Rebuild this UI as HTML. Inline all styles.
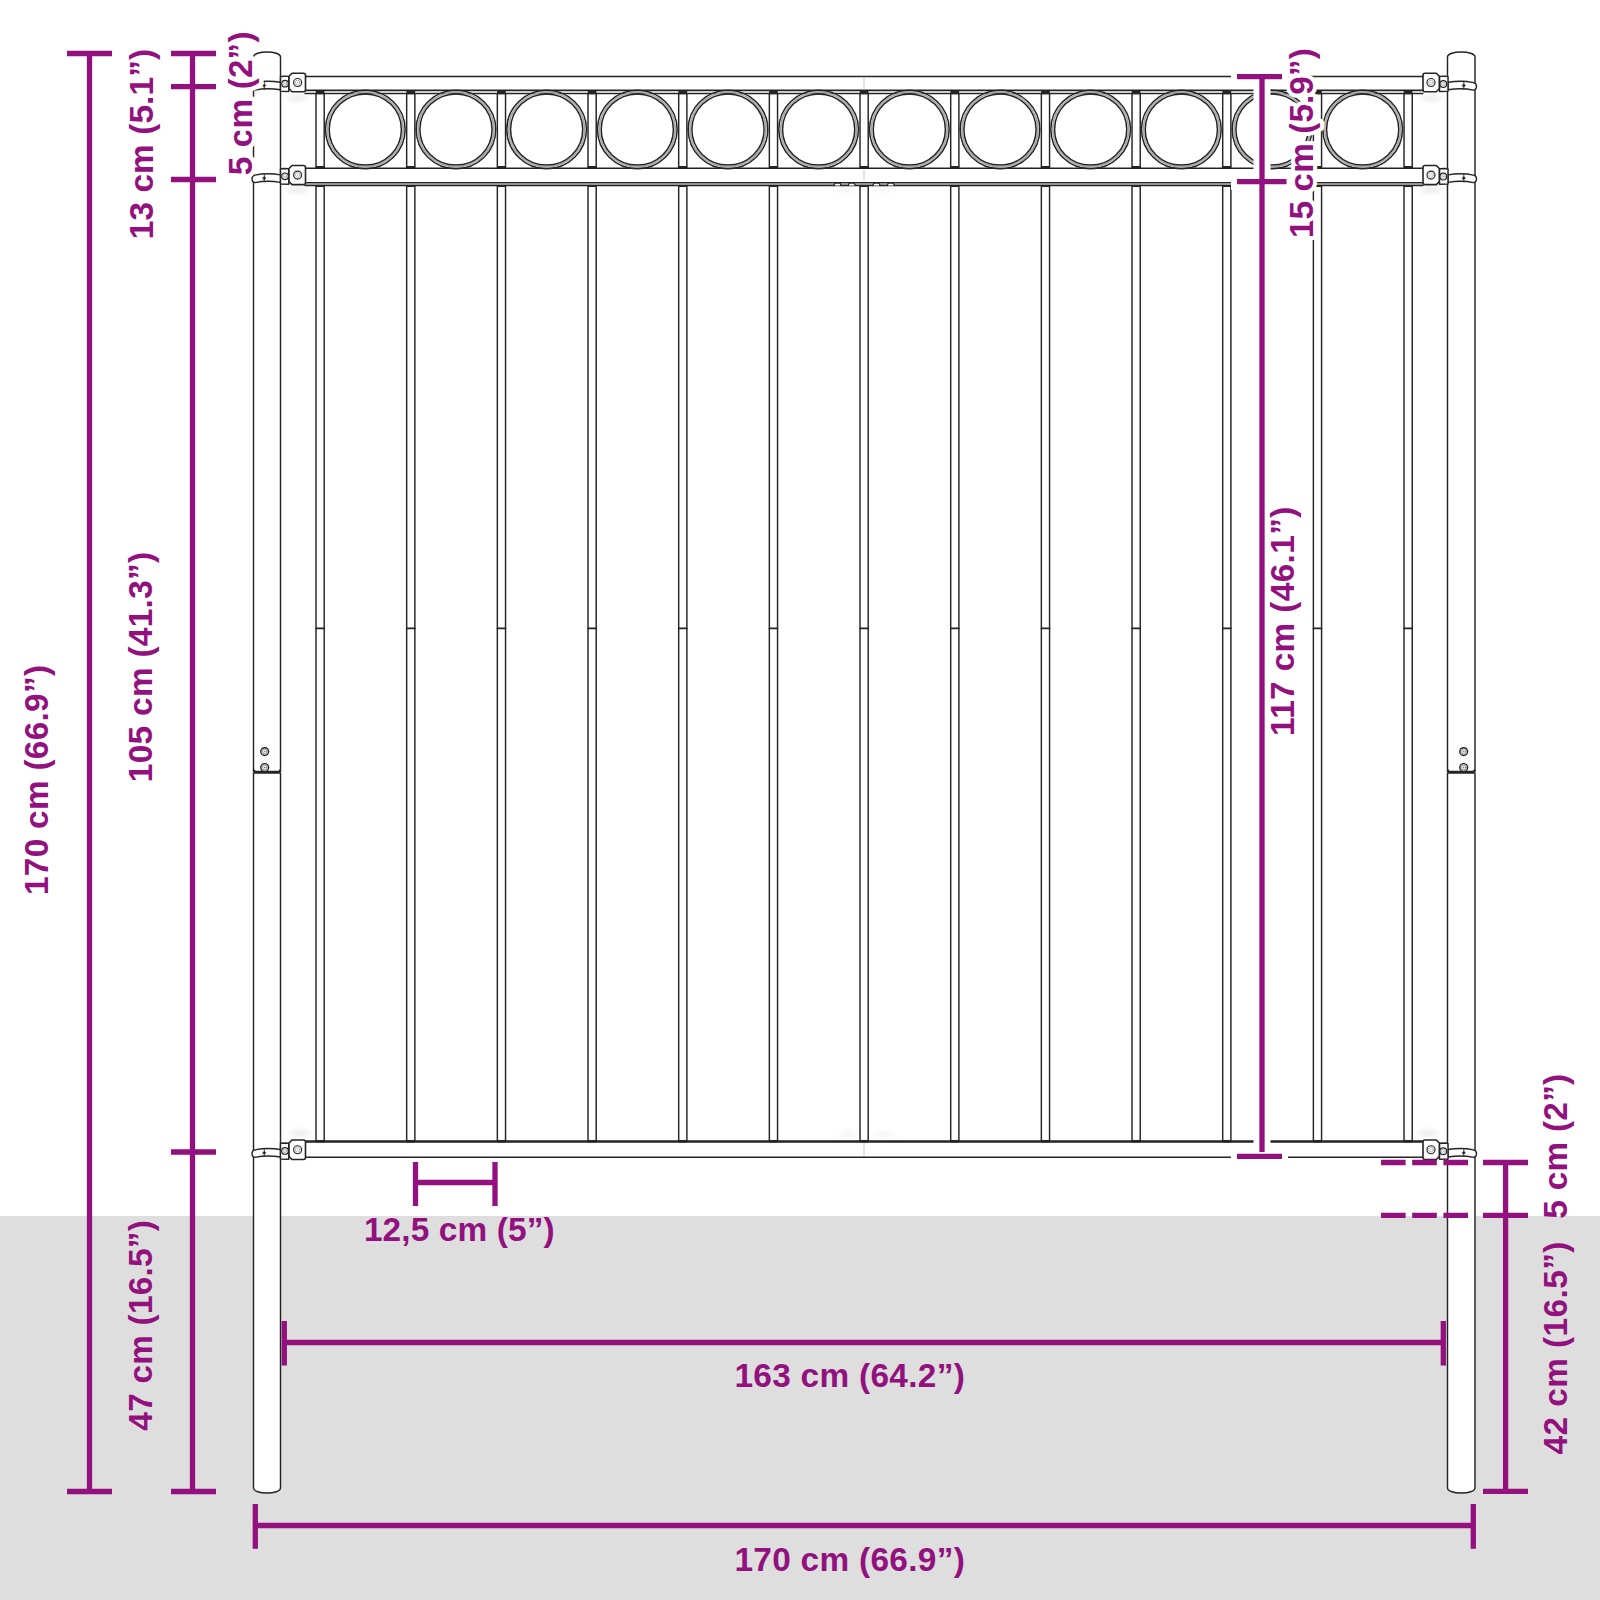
<!DOCTYPE html><html><head><meta charset="utf-8"><style>html,body{margin:0;padding:0;background:#fff;}svg{display:block;}</style></head><body>
<svg width="1600" height="1600" viewBox="0 0 1600 1600">
<rect x="0" y="0" width="1600" height="1600" fill="#fff"/>
<rect x="0" y="1216" width="1600" height="384" fill="#dedede"/>
<defs><filter id="bl" x="-50%" y="-50%" width="200%" height="200%"><feGaussianBlur stdDeviation="2.6"/></filter></defs>
<g fill="#e4e4e4" filter="url(#bl)">
<ellipse cx="297" cy="98" rx="11" ry="3.2" fill="#ececec"/>
<ellipse cx="297" cy="190" rx="11" ry="3.2" fill="#ececec"/>
<ellipse cx="300" cy="1133" rx="11" ry="3.2" fill="#ececec"/>
<ellipse cx="1431" cy="98" rx="11" ry="3.2" fill="#ececec"/>
<ellipse cx="1431" cy="190" rx="11" ry="3.2" fill="#ececec"/>
<ellipse cx="1428" cy="1133" rx="11" ry="3.2" fill="#ececec"/>
<ellipse cx="845" cy="189.5" rx="9" ry="2.5" fill="#f3f3f3"/>
<ellipse cx="884" cy="189.5" rx="9" ry="2.5" fill="#f3f3f3"/>
<ellipse cx="848" cy="1134" rx="9" ry="2.5" fill="#f3f3f3"/>
<ellipse cx="884" cy="1134" rx="9" ry="2.5" fill="#f3f3f3"/>
</g>
<g fill="none" stroke="#242424" stroke-width="1.45" stroke-linejoin="round" stroke-linecap="round">
<rect x="316.00" y="93.4" width="8.2" height="74.9" fill="#fff"/>
<rect x="316.00" y="185.2" width="8.2" height="956.3" fill="#fff"/>
<line x1="316.00" y1="628.4" x2="324.20" y2="628.4" stroke-width="1.6"/>
<rect x="406.67" y="93.4" width="8.2" height="74.9" fill="#fff"/>
<rect x="406.67" y="185.2" width="8.2" height="956.3" fill="#fff"/>
<line x1="406.67" y1="628.4" x2="414.87" y2="628.4" stroke-width="1.6"/>
<rect x="497.34" y="93.4" width="8.2" height="74.9" fill="#fff"/>
<rect x="497.34" y="185.2" width="8.2" height="956.3" fill="#fff"/>
<line x1="497.34" y1="628.4" x2="505.54" y2="628.4" stroke-width="1.6"/>
<rect x="588.01" y="93.4" width="8.2" height="74.9" fill="#fff"/>
<rect x="588.01" y="185.2" width="8.2" height="956.3" fill="#fff"/>
<line x1="588.01" y1="628.4" x2="596.21" y2="628.4" stroke-width="1.6"/>
<rect x="678.68" y="93.4" width="8.2" height="74.9" fill="#fff"/>
<rect x="678.68" y="185.2" width="8.2" height="956.3" fill="#fff"/>
<line x1="678.68" y1="628.4" x2="686.88" y2="628.4" stroke-width="1.6"/>
<rect x="769.35" y="93.4" width="8.2" height="74.9" fill="#fff"/>
<rect x="769.35" y="185.2" width="8.2" height="956.3" fill="#fff"/>
<line x1="769.35" y1="628.4" x2="777.55" y2="628.4" stroke-width="1.6"/>
<rect x="860.02" y="93.4" width="8.2" height="74.9" fill="#fff"/>
<rect x="860.02" y="185.2" width="8.2" height="956.3" fill="#fff"/>
<line x1="860.02" y1="628.4" x2="868.22" y2="628.4" stroke-width="1.6"/>
<rect x="950.69" y="93.4" width="8.2" height="74.9" fill="#fff"/>
<rect x="950.69" y="185.2" width="8.2" height="956.3" fill="#fff"/>
<line x1="950.69" y1="628.4" x2="958.89" y2="628.4" stroke-width="1.6"/>
<rect x="1041.36" y="93.4" width="8.2" height="74.9" fill="#fff"/>
<rect x="1041.36" y="185.2" width="8.2" height="956.3" fill="#fff"/>
<line x1="1041.36" y1="628.4" x2="1049.56" y2="628.4" stroke-width="1.6"/>
<rect x="1132.03" y="93.4" width="8.2" height="74.9" fill="#fff"/>
<rect x="1132.03" y="185.2" width="8.2" height="956.3" fill="#fff"/>
<line x1="1132.03" y1="628.4" x2="1140.23" y2="628.4" stroke-width="1.6"/>
<rect x="1222.70" y="93.4" width="8.2" height="74.9" fill="#fff"/>
<rect x="1222.70" y="185.2" width="8.2" height="956.3" fill="#fff"/>
<line x1="1222.70" y1="628.4" x2="1230.90" y2="628.4" stroke-width="1.6"/>
<rect x="1313.37" y="93.4" width="8.2" height="74.9" fill="#fff"/>
<rect x="1313.37" y="185.2" width="8.2" height="956.3" fill="#fff"/>
<line x1="1313.37" y1="628.4" x2="1321.57" y2="628.4" stroke-width="1.6"/>
<rect x="1404.04" y="93.4" width="8.2" height="74.9" fill="#fff"/>
<rect x="1404.04" y="185.2" width="8.2" height="956.3" fill="#fff"/>
<line x1="1404.04" y1="628.4" x2="1412.24" y2="628.4" stroke-width="1.6"/>
<rect x="305" y="76.5" width="1118" height="13.799999999999997" fill="#fff" stroke="none"/>
<rect x="305" y="90.3" width="1118" height="3.299999999999997" fill="#cccccc" stroke="none"/>
<line x1="305" y1="93.6" x2="1423" y2="93.6"/>
<line x1="305" y1="76.5" x2="1423" y2="76.5" stroke-width="1.45"/>
<line x1="305" y1="90.3" x2="1423" y2="90.3"/>
<rect x="305" y="168.3" width="1118" height="14.299999999999983" fill="#fff" stroke="none"/>
<rect x="305" y="182.6" width="1118" height="2.8000000000000114" fill="#bbbbbb" stroke="none"/>
<line x1="305" y1="185.4" x2="1423" y2="185.4"/>
<line x1="305" y1="168.3" x2="1423" y2="168.3" stroke-width="1.45"/>
<line x1="305" y1="182.6" x2="1423" y2="182.6"/>
<rect x="305" y="1141.6" width="1118" height="15.600000000000136" fill="#fff" stroke="none"/>
<line x1="305" y1="1141.6" x2="1423" y2="1141.6" stroke-width="2.5"/>
<line x1="305" y1="1157.2" x2="1423" y2="1157.2"/>
<line x1="864" y1="78" x2="864" y2="88.3" stroke="#bbb" stroke-width="0.8"/>
<line x1="864" y1="170.3" x2="864" y2="180.6" stroke="#bbb" stroke-width="0.8"/>
<line x1="864" y1="1143.5" x2="864" y2="1155.2" stroke="#bbb" stroke-width="0.8"/>
<ellipse cx="365.30" cy="129.5" rx="39.8" ry="39.2" stroke-width="1.5"/>
<ellipse cx="365.30" cy="129.5" rx="37.95" ry="37.4" stroke="#a6a6a6" stroke-width="1.7"/>
<ellipse cx="365.30" cy="129.5" rx="36.1" ry="35.6" stroke-width="1.5"/>
<ellipse cx="455.97" cy="129.5" rx="39.8" ry="39.2" stroke-width="1.5"/>
<ellipse cx="455.97" cy="129.5" rx="37.95" ry="37.4" stroke="#a6a6a6" stroke-width="1.7"/>
<ellipse cx="455.97" cy="129.5" rx="36.1" ry="35.6" stroke-width="1.5"/>
<ellipse cx="546.64" cy="129.5" rx="39.8" ry="39.2" stroke-width="1.5"/>
<ellipse cx="546.64" cy="129.5" rx="37.95" ry="37.4" stroke="#a6a6a6" stroke-width="1.7"/>
<ellipse cx="546.64" cy="129.5" rx="36.1" ry="35.6" stroke-width="1.5"/>
<ellipse cx="637.31" cy="129.5" rx="39.8" ry="39.2" stroke-width="1.5"/>
<ellipse cx="637.31" cy="129.5" rx="37.95" ry="37.4" stroke="#a6a6a6" stroke-width="1.7"/>
<ellipse cx="637.31" cy="129.5" rx="36.1" ry="35.6" stroke-width="1.5"/>
<ellipse cx="727.98" cy="129.5" rx="39.8" ry="39.2" stroke-width="1.5"/>
<ellipse cx="727.98" cy="129.5" rx="37.95" ry="37.4" stroke="#a6a6a6" stroke-width="1.7"/>
<ellipse cx="727.98" cy="129.5" rx="36.1" ry="35.6" stroke-width="1.5"/>
<ellipse cx="818.65" cy="129.5" rx="39.8" ry="39.2" stroke-width="1.5"/>
<ellipse cx="818.65" cy="129.5" rx="37.95" ry="37.4" stroke="#a6a6a6" stroke-width="1.7"/>
<ellipse cx="818.65" cy="129.5" rx="36.1" ry="35.6" stroke-width="1.5"/>
<ellipse cx="909.32" cy="129.5" rx="39.8" ry="39.2" stroke-width="1.5"/>
<ellipse cx="909.32" cy="129.5" rx="37.95" ry="37.4" stroke="#a6a6a6" stroke-width="1.7"/>
<ellipse cx="909.32" cy="129.5" rx="36.1" ry="35.6" stroke-width="1.5"/>
<ellipse cx="999.99" cy="129.5" rx="39.8" ry="39.2" stroke-width="1.5"/>
<ellipse cx="999.99" cy="129.5" rx="37.95" ry="37.4" stroke="#a6a6a6" stroke-width="1.7"/>
<ellipse cx="999.99" cy="129.5" rx="36.1" ry="35.6" stroke-width="1.5"/>
<ellipse cx="1090.66" cy="129.5" rx="39.8" ry="39.2" stroke-width="1.5"/>
<ellipse cx="1090.66" cy="129.5" rx="37.95" ry="37.4" stroke="#a6a6a6" stroke-width="1.7"/>
<ellipse cx="1090.66" cy="129.5" rx="36.1" ry="35.6" stroke-width="1.5"/>
<ellipse cx="1181.33" cy="129.5" rx="39.8" ry="39.2" stroke-width="1.5"/>
<ellipse cx="1181.33" cy="129.5" rx="37.95" ry="37.4" stroke="#a6a6a6" stroke-width="1.7"/>
<ellipse cx="1181.33" cy="129.5" rx="36.1" ry="35.6" stroke-width="1.5"/>
<ellipse cx="1272.00" cy="129.5" rx="39.8" ry="39.2" stroke-width="1.5"/>
<ellipse cx="1272.00" cy="129.5" rx="37.95" ry="37.4" stroke="#a6a6a6" stroke-width="1.7"/>
<ellipse cx="1272.00" cy="129.5" rx="36.1" ry="35.6" stroke-width="1.5"/>
<ellipse cx="1362.67" cy="129.5" rx="39.8" ry="39.2" stroke-width="1.5"/>
<ellipse cx="1362.67" cy="129.5" rx="37.95" ry="37.4" stroke="#a6a6a6" stroke-width="1.7"/>
<ellipse cx="1362.67" cy="129.5" rx="36.1" ry="35.6" stroke-width="1.5"/>
<rect x="315.70" y="90.6" width="8.799999999999999" height="2.8" rx="1" fill="#242424" stroke="none"/>
<rect x="315.70" y="165.9" width="8.799999999999999" height="2.8" rx="1" fill="#242424" stroke="none"/>
<rect x="315.70" y="184.9" width="8.799999999999999" height="2.2" rx="1" fill="#242424" stroke="none"/>
<rect x="315.70" y="1140" width="8.799999999999999" height="2.6" rx="1" fill="#242424" stroke="none"/>
<rect x="406.37" y="90.6" width="8.799999999999999" height="2.8" rx="1" fill="#242424" stroke="none"/>
<rect x="406.37" y="165.9" width="8.799999999999999" height="2.8" rx="1" fill="#242424" stroke="none"/>
<rect x="406.37" y="184.9" width="8.799999999999999" height="2.2" rx="1" fill="#242424" stroke="none"/>
<rect x="406.37" y="1140" width="8.799999999999999" height="2.6" rx="1" fill="#242424" stroke="none"/>
<rect x="497.04" y="90.6" width="8.799999999999999" height="2.8" rx="1" fill="#242424" stroke="none"/>
<rect x="497.04" y="165.9" width="8.799999999999999" height="2.8" rx="1" fill="#242424" stroke="none"/>
<rect x="497.04" y="184.9" width="8.799999999999999" height="2.2" rx="1" fill="#242424" stroke="none"/>
<rect x="497.04" y="1140" width="8.799999999999999" height="2.6" rx="1" fill="#242424" stroke="none"/>
<rect x="587.71" y="90.6" width="8.799999999999999" height="2.8" rx="1" fill="#242424" stroke="none"/>
<rect x="587.71" y="165.9" width="8.799999999999999" height="2.8" rx="1" fill="#242424" stroke="none"/>
<rect x="587.71" y="184.9" width="8.799999999999999" height="2.2" rx="1" fill="#242424" stroke="none"/>
<rect x="587.71" y="1140" width="8.799999999999999" height="2.6" rx="1" fill="#242424" stroke="none"/>
<rect x="678.38" y="90.6" width="8.799999999999999" height="2.8" rx="1" fill="#242424" stroke="none"/>
<rect x="678.38" y="165.9" width="8.799999999999999" height="2.8" rx="1" fill="#242424" stroke="none"/>
<rect x="678.38" y="184.9" width="8.799999999999999" height="2.2" rx="1" fill="#242424" stroke="none"/>
<rect x="678.38" y="1140" width="8.799999999999999" height="2.6" rx="1" fill="#242424" stroke="none"/>
<rect x="769.05" y="90.6" width="8.799999999999999" height="2.8" rx="1" fill="#242424" stroke="none"/>
<rect x="769.05" y="165.9" width="8.799999999999999" height="2.8" rx="1" fill="#242424" stroke="none"/>
<rect x="769.05" y="184.9" width="8.799999999999999" height="2.2" rx="1" fill="#242424" stroke="none"/>
<rect x="769.05" y="1140" width="8.799999999999999" height="2.6" rx="1" fill="#242424" stroke="none"/>
<rect x="859.72" y="90.6" width="8.799999999999999" height="2.8" rx="1" fill="#242424" stroke="none"/>
<rect x="859.72" y="165.9" width="8.799999999999999" height="2.8" rx="1" fill="#242424" stroke="none"/>
<rect x="859.72" y="184.9" width="8.799999999999999" height="2.2" rx="1" fill="#242424" stroke="none"/>
<rect x="859.72" y="1140" width="8.799999999999999" height="2.6" rx="1" fill="#242424" stroke="none"/>
<rect x="950.39" y="90.6" width="8.799999999999999" height="2.8" rx="1" fill="#242424" stroke="none"/>
<rect x="950.39" y="165.9" width="8.799999999999999" height="2.8" rx="1" fill="#242424" stroke="none"/>
<rect x="950.39" y="184.9" width="8.799999999999999" height="2.2" rx="1" fill="#242424" stroke="none"/>
<rect x="950.39" y="1140" width="8.799999999999999" height="2.6" rx="1" fill="#242424" stroke="none"/>
<rect x="1041.06" y="90.6" width="8.799999999999999" height="2.8" rx="1" fill="#242424" stroke="none"/>
<rect x="1041.06" y="165.9" width="8.799999999999999" height="2.8" rx="1" fill="#242424" stroke="none"/>
<rect x="1041.06" y="184.9" width="8.799999999999999" height="2.2" rx="1" fill="#242424" stroke="none"/>
<rect x="1041.06" y="1140" width="8.799999999999999" height="2.6" rx="1" fill="#242424" stroke="none"/>
<rect x="1131.73" y="90.6" width="8.799999999999999" height="2.8" rx="1" fill="#242424" stroke="none"/>
<rect x="1131.73" y="165.9" width="8.799999999999999" height="2.8" rx="1" fill="#242424" stroke="none"/>
<rect x="1131.73" y="184.9" width="8.799999999999999" height="2.2" rx="1" fill="#242424" stroke="none"/>
<rect x="1131.73" y="1140" width="8.799999999999999" height="2.6" rx="1" fill="#242424" stroke="none"/>
<rect x="1222.40" y="90.6" width="8.799999999999999" height="2.8" rx="1" fill="#242424" stroke="none"/>
<rect x="1222.40" y="165.9" width="8.799999999999999" height="2.8" rx="1" fill="#242424" stroke="none"/>
<rect x="1222.40" y="184.9" width="8.799999999999999" height="2.2" rx="1" fill="#242424" stroke="none"/>
<rect x="1222.40" y="1140" width="8.799999999999999" height="2.6" rx="1" fill="#242424" stroke="none"/>
<rect x="1313.07" y="90.6" width="8.799999999999999" height="2.8" rx="1" fill="#242424" stroke="none"/>
<rect x="1313.07" y="165.9" width="8.799999999999999" height="2.8" rx="1" fill="#242424" stroke="none"/>
<rect x="1313.07" y="184.9" width="8.799999999999999" height="2.2" rx="1" fill="#242424" stroke="none"/>
<rect x="1313.07" y="1140" width="8.799999999999999" height="2.6" rx="1" fill="#242424" stroke="none"/>
<rect x="1403.74" y="90.6" width="8.799999999999999" height="2.8" rx="1" fill="#242424" stroke="none"/>
<rect x="1403.74" y="165.9" width="8.799999999999999" height="2.8" rx="1" fill="#242424" stroke="none"/>
<rect x="1403.74" y="184.9" width="8.799999999999999" height="2.2" rx="1" fill="#242424" stroke="none"/>
<rect x="1403.74" y="1140" width="8.799999999999999" height="2.6" rx="1" fill="#242424" stroke="none"/>
<path d="M834.0,185.6 L834.6,183.8 Q834.9,183.1 835.6,183.1 L839.4,183.1 Q840.1,183.1 840.4,183.8 L841.0,185.6" fill="#fff" stroke-width="1.3"/>
<path d="M848.2,185.6 L848.8,183.8 Q849.1,183.1 849.8,183.1 L853.6,183.1 Q854.3,183.1 854.6,183.8 L855.2,185.6" fill="#fff" stroke-width="1.3"/>
<path d="M873.0,185.6 L873.6,183.8 Q873.9,183.1 874.6,183.1 L878.4,183.1 Q879.1,183.1 879.4,183.8 L880.0,185.6" fill="#fff" stroke-width="1.3"/>
<path d="M887.3,185.6 L887.9,183.8 Q888.2,183.1 888.9,183.1 L892.7,183.1 Q893.4,183.1 893.7,183.8 L894.3,185.6" fill="#fff" stroke-width="1.3"/>
<path d="M253.5,57 C253.5,50.3 280.5,50.3 280.5,57 L280.5,771.5 L253.5,771.5 Z" fill="#fff"/>
<path d="M253.5,773 L280.5,773 L280.5,1488 C280.5,1494.6 253.5,1494.6 253.5,1488 Z" fill="#fff"/>
<path d="M254.0,770.2 Q254.5,772.2 256.5,772.2 L277.5,772.2 Q279.5,772.2 280.0,770.2" stroke-width="1.8"/>
<circle cx="264.7" cy="751.6" r="3.9" fill="#f2f2f2" stroke-width="1.4"/>
<circle cx="264.7" cy="751.6" r="2.3" fill="none" stroke="#777" stroke-width="0.7"/>
<circle cx="264.7" cy="751.6" r="0.7" fill="#666" stroke="none"/>
<circle cx="264.7" cy="767.5" r="3.9" fill="#f2f2f2" stroke-width="1.4"/>
<circle cx="264.7" cy="767.5" r="2.3" fill="none" stroke="#777" stroke-width="0.7"/>
<circle cx="264.7" cy="767.5" r="0.7" fill="#666" stroke="none"/>
<path d="M1447.5,57 C1447.5,50.3 1475,50.3 1475,57 L1475,771.5 L1447.5,771.5 Z" fill="#fff"/>
<path d="M1447.5,773 L1475,773 L1475,1488 C1475,1494.6 1447.5,1494.6 1447.5,1488 Z" fill="#fff"/>
<path d="M1448.0,770.2 Q1448.5,772.2 1450.5,772.2 L1472,772.2 Q1474,772.2 1474.5,770.2" stroke-width="1.8"/>
<circle cx="1463.7" cy="751.6" r="3.9" fill="#f2f2f2" stroke-width="1.4"/>
<circle cx="1463.7" cy="751.6" r="2.3" fill="none" stroke="#777" stroke-width="0.7"/>
<circle cx="1463.7" cy="751.6" r="0.7" fill="#666" stroke="none"/>
<circle cx="1463.7" cy="767.5" r="3.9" fill="#f2f2f2" stroke-width="1.4"/>
<circle cx="1463.7" cy="767.5" r="2.3" fill="none" stroke="#777" stroke-width="0.7"/>
<circle cx="1463.7" cy="767.5" r="0.7" fill="#666" stroke="none"/>
<path d="M280.5,82.3 Q267.0,80.1 255.0,82.6 Q252.0,83.3 252.0,86.3 Q252.0,89.8 255.0,90.1 Q267.0,87.6 280.5,89.8 Z" fill="#fff"/>
<path d="M264.3,81.1 L264.3,89.3" stroke-width="0.8"/><path d="M262.7,85.5 L264.3,83.9 L265.90000000000003,85.5 L264.3,87.1 Z" fill="#242424" stroke-width="0.6"/>
<path d="M280.5,91.3 L280.5,76.7 Q281,76.2 284,76.2 L288.8,76.4 L288.8,91.5 Z" fill="#fff"/>
<circle cx="285" cy="83.7" r="3.3" fill="#fff" stroke-width="1.15"/>
<circle cx="285" cy="83.7" r="1.91" fill="none" stroke="#9a9a9a" stroke-width="0.7"/>
<circle cx="285" cy="83.7" r="0.55" fill="#888" stroke="none"/>
<path d="M289,76.2 L292,73.2 L303.5,73.2 Q305.5,73.2 305.5,75.2 L305.5,89.8 Q305.5,91.8 303.5,91.8 L292,91.8 L289,88.8 Z" fill="#fff" stroke-width="1.6"/>
<circle cx="297.6" cy="82.5" r="4.0" fill="#fff" stroke-width="1.15"/>
<circle cx="297.6" cy="82.5" r="2.32" fill="none" stroke="#9a9a9a" stroke-width="0.7"/>
<circle cx="297.6" cy="82.5" r="0.55" fill="#888" stroke="none"/>
<path d="M1448,82.3 Q1461.5,80.1 1473.5,82.6 Q1476.5,83.3 1476.5,86.3 Q1476.5,89.8 1473.5,90.1 Q1461.5,87.6 1448,89.8 Z" fill="#fff"/>
<path d="M1463.8,81.1 L1463.8,89.3" stroke-width="0.8"/><path d="M1462.2,85.5 L1463.8,83.9 L1465.3999999999999,85.5 L1463.8,87.1 Z" fill="#242424" stroke-width="0.6"/>
<path d="M1448,91.3 L1448,76.7 Q1447.5,76.2 1444.5,76.2 L1439.5,76.4 L1439.5,91.5 Z" fill="#fff"/>
<circle cx="1443.3" cy="84.0" r="3.4" fill="#fff" stroke-width="1.15"/>
<circle cx="1443.3" cy="84.0" r="1.97" fill="none" stroke="#9a9a9a" stroke-width="0.7"/>
<circle cx="1443.3" cy="84.0" r="0.55" fill="#888" stroke="none"/>
<path d="M1439.3,76.2 L1436.3,73.2 L1425,73.2 Q1423,73.2 1423,75.2 L1423,89.8 Q1423,91.8 1425,91.8 L1436.3,91.8 L1439.3,88.8 Z" fill="#fff" stroke-width="1.6"/>
<circle cx="1431" cy="82.5" r="4.0" fill="#fff" stroke-width="1.15"/>
<circle cx="1431" cy="82.5" r="2.32" fill="none" stroke="#9a9a9a" stroke-width="0.7"/>
<circle cx="1431" cy="82.5" r="0.55" fill="#888" stroke="none"/>
<path d="M280.5,174.85000000000002 Q267.0,172.65000000000003 255.0,175.15000000000003 Q252.0,175.85000000000002 252.0,178.85000000000002 Q252.0,182.35000000000002 255.0,182.65000000000003 Q267.0,180.15000000000003 280.5,182.35000000000002 Z" fill="#fff"/>
<path d="M264.3,173.65000000000003 L264.3,181.85000000000002" stroke-width="0.8"/><path d="M262.7,178.05 L264.3,176.45000000000002 L265.90000000000003,178.05 L264.3,179.65 Z" fill="#242424" stroke-width="0.6"/>
<path d="M280.5,184.1 L280.5,169.0 Q281,168.5 284,168.5 L288.8,168.7 L288.8,184.29999999999998 Z" fill="#fff"/>
<circle cx="285" cy="176.25" r="3.3" fill="#fff" stroke-width="1.15"/>
<circle cx="285" cy="176.25" r="1.91" fill="none" stroke="#9a9a9a" stroke-width="0.7"/>
<circle cx="285" cy="176.25" r="0.55" fill="#888" stroke="none"/>
<path d="M289,168.5 L292,165.5 L303.5,165.5 Q305.5,165.5 305.5,167.5 L305.5,182.6 Q305.5,184.6 303.5,184.6 L292,184.6 L289,181.6 Z" fill="#fff" stroke-width="1.6"/>
<circle cx="297.6" cy="175.05" r="4.0" fill="#fff" stroke-width="1.15"/>
<circle cx="297.6" cy="175.05" r="2.32" fill="none" stroke="#9a9a9a" stroke-width="0.7"/>
<circle cx="297.6" cy="175.05" r="0.55" fill="#888" stroke="none"/>
<path d="M1448,174.85000000000002 Q1461.5,172.65000000000003 1473.5,175.15000000000003 Q1476.5,175.85000000000002 1476.5,178.85000000000002 Q1476.5,182.35000000000002 1473.5,182.65000000000003 Q1461.5,180.15000000000003 1448,182.35000000000002 Z" fill="#fff"/>
<path d="M1463.8,173.65000000000003 L1463.8,181.85000000000002" stroke-width="0.8"/><path d="M1462.2,178.05 L1463.8,176.45000000000002 L1465.3999999999999,178.05 L1463.8,179.65 Z" fill="#242424" stroke-width="0.6"/>
<path d="M1448,184.1 L1448,169.0 Q1447.5,168.5 1444.5,168.5 L1439.5,168.7 L1439.5,184.29999999999998 Z" fill="#fff"/>
<circle cx="1443.3" cy="176.55" r="3.4" fill="#fff" stroke-width="1.15"/>
<circle cx="1443.3" cy="176.55" r="1.97" fill="none" stroke="#9a9a9a" stroke-width="0.7"/>
<circle cx="1443.3" cy="176.55" r="0.55" fill="#888" stroke="none"/>
<path d="M1439.3,168.5 L1436.3,165.5 L1425,165.5 Q1423,165.5 1423,167.5 L1423,182.6 Q1423,184.6 1425,184.6 L1436.3,184.6 L1439.3,181.6 Z" fill="#fff" stroke-width="1.6"/>
<circle cx="1431" cy="175.05" r="4.0" fill="#fff" stroke-width="1.15"/>
<circle cx="1431" cy="175.05" r="2.32" fill="none" stroke="#9a9a9a" stroke-width="0.7"/>
<circle cx="1431" cy="175.05" r="0.55" fill="#888" stroke="none"/>
<path d="M280.5,1149.55 Q267.0,1147.35 255.0,1149.85 Q252.0,1150.55 252.0,1153.55 Q252.0,1157.05 255.0,1157.35 Q267.0,1154.85 280.5,1157.05 Z" fill="#fff"/>
<path d="M264.3,1148.35 L264.3,1156.55" stroke-width="0.8"/><path d="M262.7,1152.75 L264.3,1151.15 L265.90000000000003,1152.75 L264.3,1154.35 Z" fill="#242424" stroke-width="0.6"/>
<path d="M280.5,1159.0 L280.5,1143.5 Q281,1143 284,1143 L288.8,1143.2 L288.8,1159.2 Z" fill="#fff"/>
<circle cx="285" cy="1150.95" r="3.3" fill="#fff" stroke-width="1.15"/>
<circle cx="285" cy="1150.95" r="1.91" fill="none" stroke="#9a9a9a" stroke-width="0.7"/>
<circle cx="285" cy="1150.95" r="0.55" fill="#888" stroke="none"/>
<path d="M289,1143 L292,1140 L303.5,1140 Q305.5,1140 305.5,1142 L305.5,1157.5 Q305.5,1159.5 303.5,1159.5 L292,1159.5 L289,1156.5 Z" fill="#fff" stroke-width="1.6"/>
<circle cx="297.6" cy="1149.75" r="4.0" fill="#fff" stroke-width="1.15"/>
<circle cx="297.6" cy="1149.75" r="2.32" fill="none" stroke="#9a9a9a" stroke-width="0.7"/>
<circle cx="297.6" cy="1149.75" r="0.55" fill="#888" stroke="none"/>
<path d="M1448,1149.55 Q1461.5,1147.35 1473.5,1149.85 Q1476.5,1150.55 1476.5,1153.55 Q1476.5,1157.05 1473.5,1157.35 Q1461.5,1154.85 1448,1157.05 Z" fill="#fff"/>
<path d="M1463.8,1148.35 L1463.8,1156.55" stroke-width="0.8"/><path d="M1462.2,1152.75 L1463.8,1151.15 L1465.3999999999999,1152.75 L1463.8,1154.35 Z" fill="#242424" stroke-width="0.6"/>
<path d="M1448,1159.0 L1448,1143.5 Q1447.5,1143 1444.5,1143 L1439.5,1143.2 L1439.5,1159.2 Z" fill="#fff"/>
<circle cx="1443.3" cy="1151.25" r="3.4" fill="#fff" stroke-width="1.15"/>
<circle cx="1443.3" cy="1151.25" r="1.97" fill="none" stroke="#9a9a9a" stroke-width="0.7"/>
<circle cx="1443.3" cy="1151.25" r="0.55" fill="#888" stroke="none"/>
<path d="M1439.3,1143 L1436.3,1140 L1425,1140 Q1423,1140 1423,1142 L1423,1157.5 Q1423,1159.5 1425,1159.5 L1436.3,1159.5 L1439.3,1156.5 Z" fill="#fff" stroke-width="1.6"/>
<circle cx="1431" cy="1149.75" r="4.0" fill="#fff" stroke-width="1.15"/>
<circle cx="1431" cy="1149.75" r="2.32" fill="none" stroke="#9a9a9a" stroke-width="0.7"/>
<circle cx="1431" cy="1149.75" r="0.55" fill="#888" stroke="none"/>
</g>
<g stroke="#fff" fill="none" stroke-linecap="butt">
<line x1="1262" y1="70" x2="1262" y2="1160" stroke-width="17"/>
<line x1="1231" y1="76.6" x2="1288" y2="76.6" stroke-width="16"/>
<line x1="1231" y1="181.7" x2="1292" y2="181.7" stroke-width="16"/>
<line x1="1231" y1="1156.4" x2="1288" y2="1156.4" stroke-width="16"/>
</g>
<g stroke="#92117f" stroke-width="5.3" fill="none" stroke-linecap="butt">
<line x1="89.5" y1="51" x2="89.5" y2="1494"/>
<line x1="67" y1="53.5" x2="112" y2="53.5"/>
<line x1="67" y1="1491.5" x2="112" y2="1491.5"/>
<line x1="192.5" y1="51" x2="192.5" y2="1494"/>
<line x1="171" y1="53.5" x2="216" y2="53.5"/>
<line x1="171" y1="86.6" x2="216" y2="86.6"/>
<line x1="171" y1="179.5" x2="216" y2="179.5"/>
<line x1="171" y1="1152" x2="216" y2="1152"/>
<line x1="171" y1="1491.5" x2="216" y2="1491.5"/>
<line x1="1262" y1="76.6" x2="1262" y2="1152"/>
<line x1="1237" y1="76.6" x2="1282" y2="76.6"/>
<line x1="1237" y1="181.7" x2="1286.5" y2="181.7"/>
<line x1="1237" y1="1156.4" x2="1282" y2="1156.4"/>
<line x1="1505.6" y1="1160" x2="1505.6" y2="1494"/>
<line x1="1483" y1="1162.5" x2="1528" y2="1162.5"/>
<line x1="1483" y1="1215.3" x2="1528" y2="1215.3"/>
<line x1="1483" y1="1491.3" x2="1528" y2="1491.3"/>
<line x1="1381" y1="1162.5" x2="1468" y2="1162.5" stroke-dasharray="24.6 6.6"/>
<line x1="1381" y1="1215.3" x2="1468" y2="1215.3" stroke-dasharray="24.6 6.6"/>
<line x1="415.5" y1="1162" x2="415.5" y2="1206"/>
<line x1="495" y1="1162" x2="495" y2="1206"/>
<line x1="415.5" y1="1182.5" x2="495" y2="1182.5"/>
<line x1="284.3" y1="1321" x2="284.3" y2="1365.5"/>
<line x1="1443.3" y1="1321" x2="1443.3" y2="1365.5"/>
<line x1="284.3" y1="1342.5" x2="1443.3" y2="1342.5"/>
<line x1="255.3" y1="1504" x2="255.3" y2="1548.8"/>
<line x1="1473.3" y1="1504" x2="1473.3" y2="1548.8"/>
<line x1="255.3" y1="1525.5" x2="1473.3" y2="1525.5"/>
</g>
<text transform="translate(48.2,780) rotate(-90)" x="0" y="0" text-anchor="middle" font-family="'Liberation Sans', sans-serif" font-weight="bold" font-size="33.4" fill="#92117f" textLength="230.1" lengthAdjust="spacing">170 cm (66.9”)</text>
<text transform="translate(152.8,144.1) rotate(-90)" x="0" y="0" text-anchor="middle" font-family="'Liberation Sans', sans-serif" font-weight="bold" font-size="33.4" fill="#92117f" textLength="190.3" lengthAdjust="spacing">13 cm (5.1”)</text>
<text transform="translate(151.6,667) rotate(-90)" x="0" y="0" text-anchor="middle" font-family="'Liberation Sans', sans-serif" font-weight="bold" font-size="33.4" fill="#92117f" textLength="230.4" lengthAdjust="spacing">105 cm (41.3”)</text>
<text transform="translate(151.6,1325.4) rotate(-90)" x="0" y="0" text-anchor="middle" font-family="'Liberation Sans', sans-serif" font-weight="bold" font-size="33.4" fill="#92117f" textLength="210.5" lengthAdjust="spacing">47 cm (16.5”)</text>
<text transform="translate(251.5,103.4) rotate(-90)" x="0" y="0" text-anchor="middle" font-family="'Liberation Sans', sans-serif" font-weight="bold" font-size="33.4" fill="#92117f" textLength="143.9" lengthAdjust="spacing" stroke="#fff" stroke-width="9" stroke-linejoin="round" paint-order="stroke">5 cm (2”)</text>
<text transform="translate(1313.4,143.1) rotate(-90)" x="0" y="0" text-anchor="middle" font-family="'Liberation Sans', sans-serif" font-weight="bold" font-size="33.4" fill="#92117f" textLength="190.0" lengthAdjust="spacing" stroke="#fff" stroke-width="8" stroke-linejoin="round" paint-order="stroke">15 cm (5.9”)</text>
<text transform="translate(1294.4,621.3) rotate(-90)" x="0" y="0" text-anchor="middle" font-family="'Liberation Sans', sans-serif" font-weight="bold" font-size="33.4" fill="#92117f" textLength="229.3" lengthAdjust="spacing">117 cm (46.1”)</text>
<text transform="translate(1567.4,1146.2) rotate(-90)" x="0" y="0" text-anchor="middle" font-family="'Liberation Sans', sans-serif" font-weight="bold" font-size="33.4" fill="#92117f" textLength="144.9" lengthAdjust="spacing">5 cm (2”)</text>
<text transform="translate(1567.3,1348.0) rotate(-90)" x="0" y="0" text-anchor="middle" font-family="'Liberation Sans', sans-serif" font-weight="bold" font-size="33.4" fill="#92117f" textLength="212.9" lengthAdjust="spacing">42 cm (16.5”)</text>
<text x="459.3" y="1241" text-anchor="middle" font-family="'Liberation Sans', sans-serif" font-weight="bold" font-size="33.4" fill="#92117f" textLength="190.8" lengthAdjust="spacing">12,5 cm (5”)</text>
<text x="849.6" y="1387" text-anchor="middle" font-family="'Liberation Sans', sans-serif" font-weight="bold" font-size="33.4" fill="#92117f" textLength="230.4" lengthAdjust="spacing">163 cm (64.2”)</text>
<text x="849.6" y="1570.5" text-anchor="middle" font-family="'Liberation Sans', sans-serif" font-weight="bold" font-size="33.4" fill="#92117f" textLength="230.4" lengthAdjust="spacing">170 cm (66.9”)</text>
</svg></body></html>
